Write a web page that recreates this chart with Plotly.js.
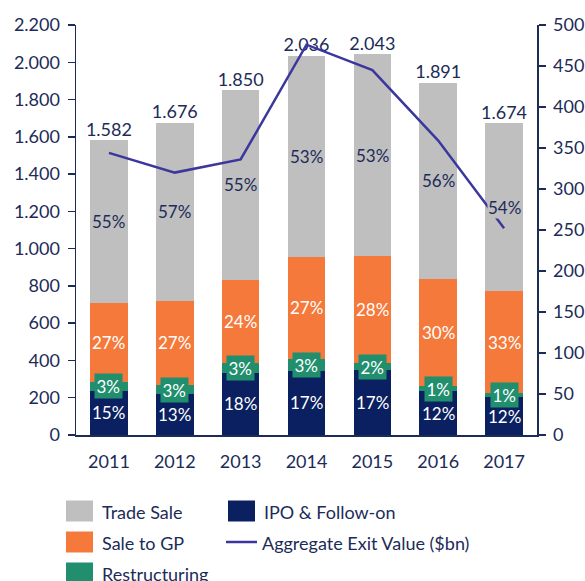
<!DOCTYPE html>
<html>
<head>
<meta charset="utf-8">
<script src="https://cdn.plot.ly/plotly-3.0.1.min.js"></script>
<style>html,body{margin:0;padding:0;background:#fff;}#chart{width:585px;height:581px;}</style>
</head>
<body>
<div id="chart"></div>
<script>
// ---- data ----
const years = ['2011', '2012', '2013', '2014', '2015', '2016', '2017'];
const ipoFollowOn = [237, 218, 333, 346, 347, 236, 202];
const restructuring = [47, 50, 56, 61, 41, 27, 22];
const saleToGP = [427, 453, 444, 550, 572, 574, 547];
const tradeSale = [871, 955, 1017, 1079, 1083, 1054, 903];
const exitValue = [344, 320, 336, 476, 445, 359, 252];

const pctIPO = ['15%', '13%', '18%', '17%', '17%', '12%', '12%'];
const pctRestr = ['3%', '3%', '3%', '3%', '2%', '1%', '1%'];
const pctGP = ['27%', '27%', '24%', '27%', '28%', '30%', '33%'];
const pctTrade = ['55%', '57%', '55%', '53%', '53%', '56%', '54%'];

const seriesNames = ['Trade Sale', 'IPO & Follow-on', 'Sale to GP', 'Aggregate Exit Value ($bn)', 'Restructuring'];

// ---- styling ----
const NAVY = '#1C2B58';
const C_TRADE = '#BFBFBF';
const C_GP = '#F5793A';
const C_RESTR = '#218F6E';
const C_IPO = '#0A2060';
const C_LINE = '#3B379C';
const FONT = 'Lato, "Open Sans", sans-serif';
const PCT_SIZE = 17;

const totals = years.map((_, i) => ipoFollowOn[i] + restructuring[i] + saleToGP[i] + tradeSale[i]);

const traces = [
  {type: 'bar', name: 'IPO & Follow-on', x: years, y: ipoFollowOn,
    marker: {color: C_IPO}, showlegend: false, hoverinfo: 'skip'},
  {type: 'bar', name: 'Restructuring', x: years, y: restructuring,
    marker: {color: C_RESTR}, showlegend: false, hoverinfo: 'skip'},
  {type: 'bar', name: 'Sale to GP', x: years, y: saleToGP,
    marker: {color: C_GP}, showlegend: false, hoverinfo: 'skip'},
  {type: 'bar', name: 'Trade Sale', x: years, y: tradeSale,
    marker: {color: C_TRADE}, showlegend: false, hoverinfo: 'skip'},
  {type: 'scatter', mode: 'lines', name: 'Aggregate Exit Value ($bn)', x: years, y: exitValue,
    yaxis: 'y2', line: {color: C_LINE, width: 2.5}, showlegend: false, hoverinfo: 'skip'},
  {type: 'scatter', mode: 'text', x: years, y: totals, showlegend: false,
    texttemplate: '%{y:,d}', textposition: 'top center',
    textfont: {color: NAVY, size: 18, family: FONT}, hoverinfo: 'skip'}
];

const annotations = [];
years.forEach((yr, i) => {
  const b1 = ipoFollowOn[i], b2 = b1 + restructuring[i], b3 = b2 + saleToGP[i];
  annotations.push({x: i, y: b1 / 2, xref: 'x', yref: 'y', text: pctIPO[i], showarrow: false,
    font: {color: '#FFFFFF', size: PCT_SIZE, family: FONT}});
  annotations.push({x: i, y: (b2 + b3) / 2, xref: 'x', yref: 'y', text: pctGP[i], showarrow: false,
    font: {color: '#FFFFFF', size: PCT_SIZE, family: FONT}});
  annotations.push({x: i, y: (b1 + b2) / 2, xref: 'x', yref: 'y', text: pctRestr[i], showarrow: false,
    bgcolor: C_RESTR, borderpad: 1.5, font: {color: '#FFFFFF', size: PCT_SIZE, family: FONT}});
  annotations.push({x: i, y: b3 + tradeSale[i] / 2, xref: 'x', yref: 'y', text: pctTrade[i], showarrow: false,
    bgcolor: C_TRADE, borderpad: 0, font: {color: NAVY, size: PCT_SIZE, family: FONT}});
});

// ---- custom legend (two columns, large swatches) ----
const PL = 76, PW = 461, PB = 435, PH = 410;
const px = v => (v - PL) / PW;
const py = v => (PB - v) / PH;
const legendItems = [
  {name: seriesNames[0], kind: 'box', color: C_TRADE, x: 66, y: 511},
  {name: seriesNames[1], kind: 'box', color: C_IPO, x: 228, y: 511},
  {name: seriesNames[2], kind: 'box', color: C_GP, x: 66, y: 542},
  {name: seriesNames[3], kind: 'line', color: C_LINE, x: 226, y: 542},
  {name: seriesNames[4], kind: 'box', color: C_RESTR, x: 66, y: 573}
];
const shapes = [];
legendItems.forEach(it => {
  if (it.kind === 'box') {
    shapes.push({type: 'rect', xref: 'paper', yref: 'paper',
      x0: px(it.x), x1: px(it.x + 27), y0: py(it.y - 10.5), y1: py(it.y + 10.5),
      fillcolor: it.color, line: {width: 0}});
  } else {
    shapes.push({type: 'line', xref: 'paper', yref: 'paper',
      x0: px(it.x), x1: px(it.x + 31), y0: py(it.y), y1: py(it.y),
      line: {color: it.color, width: 2.5}});
  }
  annotations.push({xref: 'paper', yref: 'paper', x: px(it.x + 34), y: py(it.y + 1),
    xanchor: 'left', yanchor: 'middle', showarrow: false, text: it.name,
    font: {size: 18, color: NAVY, family: FONT}});
});

const axisStyle = {
  showline: true, linecolor: NAVY, linewidth: 1.5,
  ticks: 'outside', ticklen: 7, tickwidth: 1.5, tickcolor: NAVY,
  showgrid: false, zeroline: false,
  tickfont: {size: 18, color: NAVY, family: FONT}
};

const layout = {
  width: 585, height: 581,
  margin: {l: 76, r: 48, t: 25, b: 146},
  paper_bgcolor: '#FFFFFF', plot_bgcolor: '#FFFFFF',
  font: {family: FONT, color: NAVY},
  separators: ',.',
  barmode: 'stack', bargap: 0.43,
  showlegend: false,
  xaxis: {
    type: 'category', range: [-0.5, 6.5], showline: true, linecolor: NAVY, linewidth: 1.5,
    ticks: '', showgrid: false, zeroline: false, ticklabelstandoff: 10,
    tickfont: {size: 18, color: NAVY, family: FONT}
  },
  yaxis: Object.assign({}, axisStyle, {range: [0, 2200], dtick: 200, tickformat: ',d', ticklabelstandoff: 4}),
  yaxis2: Object.assign({}, axisStyle, {range: [0, 500], dtick: 50, overlaying: 'y', side: 'right', ticklabelstandoff: 4}),
  shapes: shapes,
  annotations: annotations
};

Plotly.newPlot('chart', traces, layout, {staticPlot: true, displayModeBar: false});
</script>
</body>
</html>
